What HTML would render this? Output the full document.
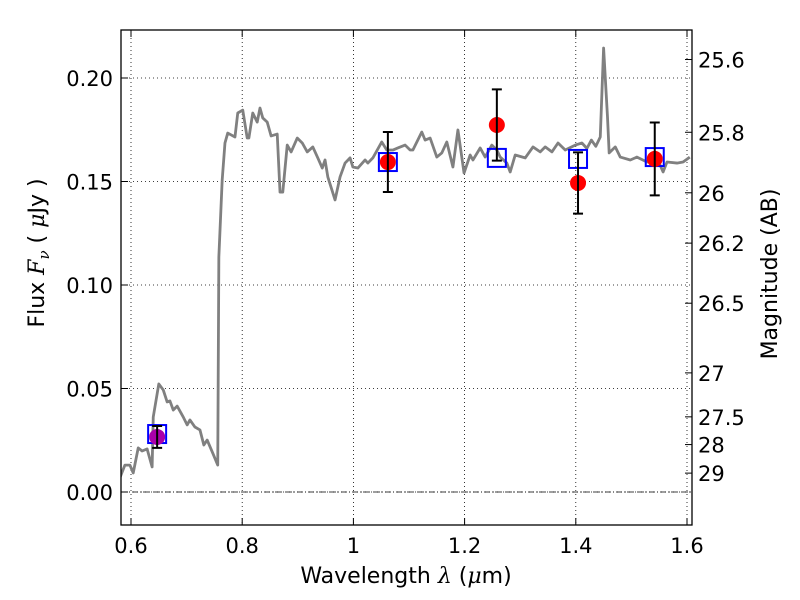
<!DOCTYPE html>
<html><head><meta charset="utf-8"><style>
body{margin:0;background:#fff}
svg{display:block;font-family:"DejaVu Sans","Liberation Sans",sans-serif}
</style></head><body>
<svg id="chart" width="800" height="600" viewBox="0 0 800 600"></svg>
<script>
const specWave=[0.580,0.589,0.598,0.604,0.613,0.620,0.629,0.638,0.640,0.650,0.658,0.665,0.670,0.676,0.683,0.694,0.701,0.706,0.715,0.724,0.731,0.737,0.747,0.756,0.758,0.764,0.769,0.774,0.787,0.792,0.801,0.809,0.812,0.819,0.827,0.832,0.837,0.845,0.852,0.863,0.868,0.873,0.881,0.888,0.899,0.908,0.917,0.927,0.936,0.944,0.949,0.954,0.967,0.976,0.985,0.994,0.999,1.008,1.021,1.026,1.035,1.051,1.060,1.071,1.080,1.093,1.102,1.107,1.123,1.129,1.138,1.150,1.159,1.168,1.179,1.188,1.199,1.210,1.215,1.228,1.237,1.249,1.258,1.264,1.276,1.282,1.291,1.309,1.323,1.336,1.345,1.357,1.368,1.381,1.399,1.411,1.420,1.428,1.436,1.444,1.450,1.457,1.460,1.471,1.480,1.498,1.510,1.528,1.546,1.557,1.564,1.582,1.593,1.605];
const specFlux=[0.0068,0.0130,0.0130,0.0092,0.0213,0.0198,0.0208,0.0121,0.0362,0.0522,0.0493,0.0435,0.0440,0.0396,0.0415,0.0362,0.0324,0.0348,0.0314,0.0300,0.0227,0.0251,0.0188,0.0130,0.1135,0.1507,0.1686,0.1734,0.1715,0.1831,0.1845,0.1710,0.1710,0.1831,0.1787,0.1855,0.1807,0.1787,0.1720,0.1729,0.1449,0.1449,0.1676,0.1643,0.1710,0.1686,0.1643,0.1667,0.1614,0.1565,0.1604,0.1522,0.1411,0.1522,0.1589,0.1614,0.1570,0.1565,0.1604,0.1589,0.1614,0.1691,0.1652,0.1652,0.1662,0.1676,0.1652,0.1652,0.1739,0.1700,0.1710,0.1618,0.1638,0.1691,0.1570,0.1749,0.1541,0.1628,0.1604,0.1662,0.1618,0.1676,0.1652,0.1618,0.1589,0.1546,0.1628,0.1614,0.1667,0.1643,0.1667,0.1643,0.1686,0.1652,0.1676,0.1686,0.1660,0.1700,0.1670,0.1715,0.2145,0.1812,0.1638,0.1667,0.1618,0.1604,0.1618,0.1594,0.1614,0.1546,0.1594,0.1589,0.1594,0.1618];
const photWave=[0.647,1.062,1.258,1.404,1.542];
const photFlux=[0.0266,0.1594,0.1773,0.1493,0.1609];
const photErr=[0.0053,0.0145,0.0172,0.0148,0.0176];
const photColor=["#aa00aa","#ff0000","#ff0000","#ff0000","#ff0000"];
const modelFlux=[0.0280,0.1594,0.1614,0.1609,0.1618];
const xTicks=[0.6,0.8,1.0,1.2,1.4,1.6];
const xTickLabels=["0.6","0.8","1","1.2","1.4","1.6"];
const yTicks=[0,0.05,0.10,0.15,0.20];
const yTickLabels=["0.00","0.05","0.10","0.15","0.20"];
const magTicks=[25.6,25.8,26,26.2,26.5,27,27.5,28,29];
const magTickLabels=["25.6","25.8","26","26.2","26.5","27","27.5","28","29"];

const L=121,R=692,T=30,B=525;
const X=v=>131+(v-0.6)*556;
const Y=v=>492-v*2070;
const NS="http://www.w3.org/2000/svg";
const svg=document.getElementById('chart');
function mk(tag,attrs,parent){const e=document.createElementNS(NS,tag);for(const k in attrs)e.setAttribute(k,attrs[k]);(parent||svg).appendChild(e);return e;}

xTicks.forEach((t,i)=>{
  const g=mk('line',{x1:X(t),x2:X(t),y1:T,y2:B,stroke:'#000','stroke-width':0.8,'stroke-dasharray':'1,3'});
  
  
  const tk=mk('line',{x1:X(t),x2:X(t),y1:B,y2:B-7,stroke:'#000','stroke-width':1});
  
  
  const tk2=mk('line',{x1:X(t),x2:X(t),y1:T,y2:T+7,stroke:'#000','stroke-width':1});
  
  
  const lb=mk('text',{x:X(t),y:553,'font-size':21,'text-anchor':'middle',fill:'#000'});
  lb.textContent=xTickLabels[i];
  
  
});
yTicks.forEach((t,i)=>{
  const g=mk('line',{x1:L,x2:R,y1:Y(t),y2:Y(t),stroke:'#000','stroke-width':0.8,'stroke-dasharray':'1,3'});
  
  
  const tk=mk('line',{x1:L,x2:L+7,y1:Y(t),y2:Y(t),stroke:'#000','stroke-width':1});
  
  
  const lb=mk('text',{x:113,y:Y(t)+8,'font-size':21,'text-anchor':'end',fill:'#000'});
  lb.textContent=yTickLabels[i];
  
  
});
magTicks.forEach((m,i)=>{
  const f=Math.pow(10,(23.9-m)/2.5);
  const tk=mk('line',{x1:R,x2:R-7,y1:Y(f),y2:Y(f),stroke:'#000','stroke-width':1});
  
  
  const lb=mk('text',{x:698,y:Y(f)+8,'font-size':21,fill:'#000'});
  lb.textContent=magTickLabels[i];
  
  
});
const z=mk('line',{x1:L,x2:R,y1:Y(0),y2:Y(0),stroke:'#000','stroke-width':0.8,'stroke-dasharray':'6,2,1,2'});



const clip=mk('clipPath',{id:'pc'});mk('rect',{x:L,y:T,width:R-L,height:B-T},clip);
const sp=mk('polyline',{points:specWave.map((w,i)=>X(w)+','+Y(specFlux[i])).join(' '),fill:'none',stroke:'#808080','stroke-width':2.8,'stroke-linejoin':'round','clip-path':'url(#pc)'});



photWave.forEach((w,i)=>{
  const s=mk('rect',{x:X(w)-9,y:Y(modelFlux[i])-9,width:18,height:18,fill:'none',stroke:'#0000ff','stroke-width':2});
  
  
});
photWave.forEach((w,i)=>{
  const c=mk('circle',{cx:X(w),cy:Y(photFlux[i]),r:8,fill:photColor[i]});
  
  
  const y1=Y(photFlux[i]+photErr[i]),y2=Y(photFlux[i]-photErr[i]);
  const e=mk('path',{d:`M${X(w)},${y1}V${y2}M${X(w)-5},${y1}H${X(w)+5}M${X(w)-5},${y2}H${X(w)+5}`,stroke:'#000','stroke-width':2,fill:'none'});
  
  
});

const fr=mk('rect',{x:L,y:T,width:R-L,height:B-T,fill:'none',stroke:'#000','stroke-width':1.3});



const xl=mk('text',{x:406,y:583,'font-size':22,'text-anchor':'middle',fill:'#000'});
xl.innerHTML='Wavelength  <tspan font-style="italic" font-family="DejaVu Serif, serif">λ</tspan> (<tspan font-style="italic" font-family="DejaVu Serif, serif">μ</tspan>m)';


const yl=mk('text',{x:0,y:0,'font-size':22,'text-anchor':'middle',fill:'#000',transform:'translate(44,253) rotate(-90)'});
yl.innerHTML='Flux  <tspan font-style="italic" font-family="DejaVu Serif, serif">F</tspan><tspan font-style="italic" font-size="15" dy="5" font-family="DejaVu Serif, serif">ν</tspan><tspan dy="-5">  (  </tspan><tspan font-style="italic" font-family="DejaVu Serif, serif">μ</tspan>Jy )';


const rl=mk('text',{x:0,y:0,'font-size':22,'text-anchor':'middle',fill:'#000',transform:'translate(777,274) rotate(-90)'});
rl.textContent='Magnitude (AB)';


</script>
</body></html>
